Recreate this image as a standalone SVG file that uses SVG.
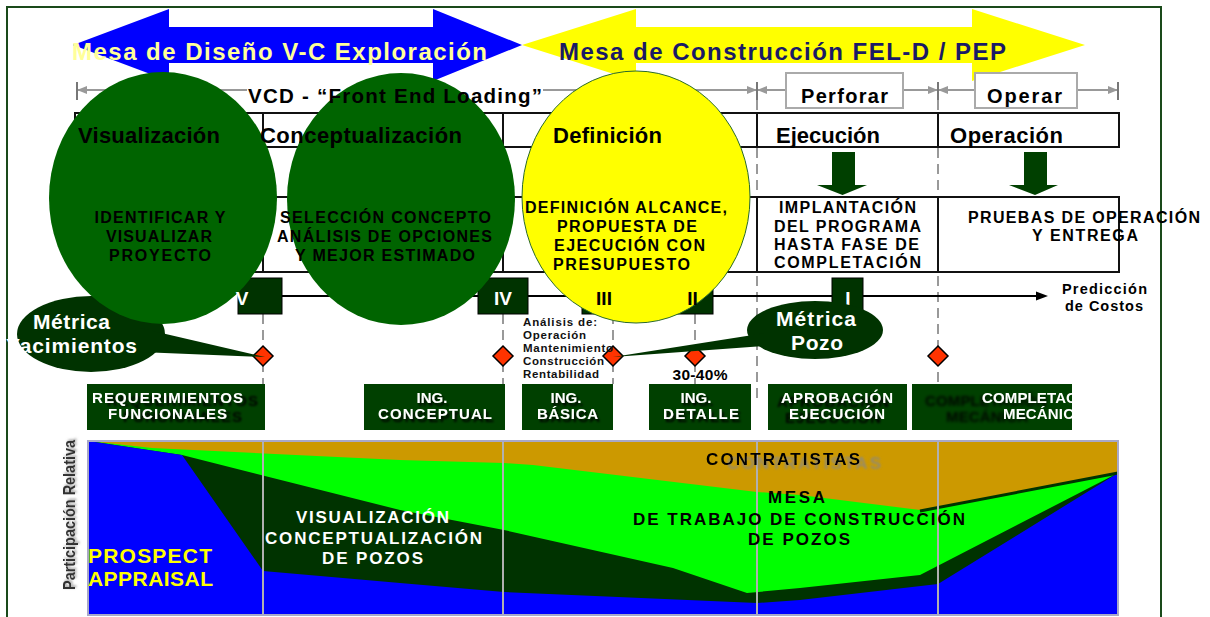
<svg xmlns="http://www.w3.org/2000/svg" width="1210" height="617" viewBox="0 0 1210 617">
<defs>
<style>
text{font-family:"Liberation Sans",Arial,Helvetica,sans-serif;font-weight:bold;}
.title{font-size:24px}
.phase{font-size:22px;fill:#000}
.desc{font-size:16px;fill:#000;text-anchor:middle}
.descl{font-size:16px;fill:#000}
.box{fill:#004000}
.boxt{font-size:15px;fill:#fff;text-anchor:middle}
.boxs{font-size:15px;fill:#fff}
.rom{fill:#003300;stroke:#000;stroke-width:1}
.romt{font-size:19px;text-anchor:middle}
.dim{stroke:#999;stroke-width:2;fill:none}
.tick{stroke:#777;stroke-width:2}
.dash{stroke:#999;stroke-width:2;stroke-dasharray:10 6;fill:none}
.tbl{stroke:#111;stroke-width:2;fill:none}
.dia{fill:#ff3300;stroke:#000;stroke-width:1.5}
.bub{fill:#003300}
.bubt{font-size:21px;fill:#fff;text-anchor:middle}
.small{font-size:11.5px;fill:#111}
.chart{font-size:17px;text-anchor:middle}
.grid{stroke:#b0b0b0;stroke-width:2}
</style>
<marker id="ga" viewBox="0 0 10 8" refX="10" refY="4" markerWidth="5" markerHeight="4" orient="auto-start-reverse" markerUnits="strokeWidth">
<path d="M0,0 L10,4 L0,8 z" fill="#999"/>
</marker>
<filter id="sh" x="-20%" y="-50%" width="140%" height="200%"><feDropShadow dx="2" dy="3" stdDeviation="1" flood-color="#000" flood-opacity="0.9"/></filter>
<filter id="sh15" x="-20%" y="-50%" width="150%" height="200%"><feDropShadow dx="15" dy="3" stdDeviation="1.2" flood-color="#000" flood-opacity="0.9"/></filter>
<filter id="shl" x="-30%" y="-50%" width="160%" height="200%"><feDropShadow dx="-4" dy="4" stdDeviation="1" flood-color="#000" flood-opacity="0.9"/></filter>
<filter id="shm" x="-100%" y="-50%" width="250%" height="200%"><feDropShadow dx="-57" dy="3" stdDeviation="1.5" flood-color="#000" flood-opacity="0.85"/></filter>
<filter id="shg" x="-20%" y="-50%" width="150%" height="200%"><feDropShadow dx="21" dy="4" stdDeviation="0.8" flood-color="#888" flood-opacity="0.8"/></filter>
<filter id="shp" x="-50%" y="-20%" width="200%" height="140%"><feDropShadow dx="1.5" dy="1.5" stdDeviation="1" flood-color="#888" flood-opacity="0.8"/></filter>
<clipPath id="clipComp"><rect x="912" y="384" width="160" height="46"/></clipPath>
</defs>

<rect x="0" y="0" width="1210" height="617" fill="#fff"/>
<rect x="7" y="7" width="1154" height="640" fill="none" stroke="#1a4a1a" stroke-width="2"/>

<g id="mesa-diseno">
<polygon points="73,45 169,9 169,27 433,27 433,9 522,45 433,81 433,63 169,63 169,81" fill="#0000ff"/>
<text class="title" x="72" y="60" fill="#ffff99" textLength="415">Mesa de Diseño V-C Exploración</text>
</g>
<g id="mesa-construccion">
<polygon points="522,45 636,9 636,27 972,27 972,9 1085,45 972,81 972,63 636,63 636,81" fill="#ffff00"/>
<text class="title" x="559" y="60" fill="#1a1a66" textLength="447">Mesa de Construcción FEL-D / PEP</text>
</g>

<g id="connectors">
<line class="dim" x1="77" y1="90" x2="247" y2="90" marker-start="url(#ga)"/>
<line class="dim" x1="543" y1="90" x2="757" y2="90" marker-end="url(#ga)"/>
<line class="dim" x1="757" y1="90" x2="786" y2="90" marker-start="url(#ga)"/>
<line class="dim" x1="903" y1="90" x2="938" y2="90" marker-end="url(#ga)"/>
<line class="dim" x1="938" y1="90" x2="975" y2="90" marker-start="url(#ga)"/>
<line class="dim" x1="1077" y1="90" x2="1118" y2="90" marker-end="url(#ga)"/>
<line class="tick" x1="77" y1="82" x2="77" y2="100" stroke="#555"/>
<line class="tick" x1="757" y1="82" x2="757" y2="100"/>
<line class="tick" x1="938" y1="82" x2="938" y2="100"/>
<line class="tick" x1="1118" y1="82" x2="1118" y2="100"/>
<line class="dash" x1="757" y1="100" x2="757" y2="402"/>
<line class="dash" x1="938" y1="100" x2="938" y2="384"/>
<line class="dash" x1="263" y1="314" x2="263" y2="384"/>
<line class="dash" x1="503" y1="314" x2="503" y2="395"/>
<line class="dash" x1="613" y1="314" x2="613" y2="384"/>
<line class="dash" x1="695" y1="314" x2="695" y2="384"/>
<line x1="263" y1="296" x2="1040" y2="296" stroke="#000" stroke-width="2"/>
<polygon points="1036,291.5 1048,296 1036,300.5" fill="#000"/>
</g>

<g id="perforar">
<rect x="786" y="73" width="117" height="35" fill="#fff" stroke="#aaa" stroke-width="2"/>
<text x="844.5" y="103" font-size="20" text-anchor="middle" textLength="87">Perforar</text>
</g>
<g id="operar">
<rect x="975" y="73" width="102" height="35" fill="#fff" stroke="#aaa" stroke-width="2"/>
<text x="1024.5" y="103" font-size="20" text-anchor="middle" textLength="75">Operar</text>
</g>

<g id="table">
<rect class="tbl" x="75" y="113" width="1044" height="34"/>
<rect class="tbl" x="75" y="197" width="1044" height="75"/>
<line class="tbl" x1="263" y1="113" x2="263" y2="272"/>
<line class="tbl" x1="503" y1="113" x2="503" y2="272"/>
<line class="tbl" x1="757" y1="113" x2="757" y2="147"/>
<line class="tbl" x1="757" y1="197" x2="757" y2="272"/>
<line class="tbl" x1="938" y1="113" x2="938" y2="147"/>
<line class="tbl" x1="938" y1="197" x2="938" y2="272"/>
</g>

<g id="mile-V"><rect class="rom" x="238" y="278" width="44" height="36"/></g>
<g id="mile-IV"><rect class="rom" x="478" y="278" width="50" height="36"/><text class="romt" x="503" y="305" fill="#fff">IV</text></g>
<g id="mile-III"><rect class="rom" x="582" y="278" width="46" height="36"/></g>
<g id="mile-II"><rect class="rom" x="672" y="278" width="41" height="36"/></g>
<g id="mile-I"><rect class="rom" x="832" y="278" width="31" height="36"/><text class="romt" x="848" y="305" fill="#fff">I</text></g>

<g id="diamonds">
<polygon class="dia" points="263,346 273,356 263,366 253,356"/>
<polygon class="dia" points="503,346 513,356 503,366 493,356"/>
<polygon class="dia" points="613,346 623,356 613,366 603,356"/>
<polygon class="dia" points="695,346 705,356 695,366 685,356"/>
<polygon class="dia" points="938,346 948,356 938,366 928,356"/>
</g>

<g id="metrica-yacimientos">
<ellipse class="bub" cx="91" cy="334" rx="74" ry="38"/>
<polygon class="bub" points="140,328 265,357 140,352"/>
</g>
<g id="metrica-pozo">
<ellipse class="bub" cx="815" cy="330" rx="68" ry="29"/>
<polygon class="bub" points="765,333 613,357 765,346"/>
<text class="bubt" x="816" y="326" textLength="80">Métrica</text>
<text class="bubt" x="817" y="350" textLength="52">Pozo</text>
</g>

<g id="visualizacion">
<ellipse cx="163" cy="198" rx="114" ry="126" fill="#006400"/>
</g>
<g id="conceptualizacion">
<ellipse cx="401" cy="199" rx="114" ry="126" fill="#006400"/>
</g>
<g id="definicion">
<ellipse cx="636" cy="197" rx="114" ry="126" fill="#ffff00" stroke="#2a6a2a" stroke-width="1"/>
</g>

<text x="395" y="103" font-size="20.5" text-anchor="middle" textLength="294">VCD - “Front End Loading”</text>

<text class="phase" x="78" y="143" textLength="142">Visualización</text>
<text class="phase" x="260" y="143" textLength="202">Conceptualización</text>
<text class="phase" x="553" y="143" textLength="109">Definición</text>
<text class="phase" x="776" y="143" textLength="104">Ejecución</text>
<text class="phase" x="950" y="143" textLength="113">Operación</text>

<g id="arrow-ejecucion"><polygon points="832,152 855,152 855,185 867,185 842.5,195 817,185 832,185" fill="#004000"/></g>
<g id="arrow-operacion"><polygon points="1024,152 1047,152 1047,185 1058,185 1035,195 1009,185 1024,185" fill="#004000"/></g>

<text class="desc" x="160" y="223" textLength="131">IDENTIFICAR Y</text>
<text class="desc" x="159" y="242" textLength="106">VISUALIZAR</text>
<text class="desc" x="160" y="261" textLength="102">PROYECTO</text>

<text class="desc" x="385.5" y="223" textLength="211">SELECCIÓN CONCEPTO</text>
<text class="desc" x="384.5" y="242" textLength="215">ANÁLISIS DE OPCIONES</text>
<text class="desc" x="385" y="261" textLength="180">Y MEJOR ESTIMADO</text>

<text class="descl" x="525" y="213" textLength="202">DEFINICIÓN ALCANCE,</text>
<text class="descl" x="557" y="232" textLength="140">PROPUESTA DE</text>
<text class="descl" x="554" y="251" textLength="151">EJECUCIÓN CON</text>
<text class="descl" x="553" y="270" textLength="137">PRESUPUESTO</text>

<text class="desc" x="847.5" y="213" textLength="137">IMPLANTACIÓN</text>
<text class="desc" x="847.5" y="232" textLength="147">DEL PROGRAMA</text>
<text class="desc" x="846.5" y="250" textLength="145">HASTA FASE DE</text>
<text class="desc" x="847.5" y="268" textLength="147">COMPLETACIÓN</text>

<text class="desc" x="1084" y="223" textLength="232">PRUEBAS DE OPERACIÓN</text>
<text class="desc" x="1085" y="241" textLength="106">Y ENTREGA</text>

<text class="romt" x="242" y="305" fill="#fff">V</text>
<text class="romt" x="604" y="305" fill="#000">III</text>
<text class="romt" x="692.5" y="305" fill="#000">II</text>

<text x="1104.5" y="294" font-size="14.5" text-anchor="middle" textLength="85">Predicción</text>
<text x="1104" y="311" font-size="14.5" text-anchor="middle" textLength="78">de Costos</text>

<text class="bubt" x="71.5" y="329" textLength="77">Métrica</text>
<text class="bubt" x="71.5" y="353" textLength="131">Yacimientos</text>

<g id="analisis">
<text class="small" x="523" y="326" textLength="74">Análisis de:</text>
<text class="small" x="523" y="339" textLength="63">Operación</text>
<text class="small" x="523" y="352" textLength="90">Mantenimiento</text>
<text class="small" x="523" y="365" textLength="81">Construcción</text>
<text class="small" x="523" y="378" textLength="76">Rentabilidad</text>
</g>
<text x="700" y="380" font-size="15.5" text-anchor="middle" textLength="55">30-40%</text>

<g id="req-funcionales">
<rect class="box" x="87" y="384" width="178" height="46"/>
<text class="boxt" x="167.5" y="403" textLength="151" filter="url(#sh15)">REQUERIMIENTOS</text>
<text class="boxt" x="167.5" y="419" textLength="119" filter="url(#sh15)">FUNCIONALES</text>
</g>
<g id="ing-conceptual">
<rect class="box" x="364" y="384" width="141" height="46"/>
<text class="boxt" x="432" y="403" filter="url(#sh)">ING.</text>
<text class="boxt" x="435" y="419" textLength="114" filter="url(#sh)">CONCEPTUAL</text>
</g>
<g id="ing-basica">
<rect class="box" x="522" y="384" width="91" height="46"/>
<text class="boxt" x="566" y="403" filter="url(#sh)">ING.</text>
<text class="boxt" x="567.5" y="419" textLength="61" filter="url(#sh)">BÁSICA</text>
</g>
<g id="ing-detalle">
<rect class="box" x="649" y="384" width="102" height="46"/>
<text class="boxt" x="696" y="403" filter="url(#sh)">ING.</text>
<text class="boxt" x="701" y="419" textLength="76" filter="url(#sh)">DETALLE</text>
</g>
<g id="aprobacion-ejecucion">
<rect class="box" x="768" y="384" width="139" height="46"/>
<text class="boxt" x="837" y="403" textLength="112" filter="url(#shl)">APROBACIÓN</text>
<text class="boxt" x="837" y="419" textLength="96" filter="url(#shl)">EJECUCIÓN</text>
</g>
<g id="completacion-mecanica">
<rect class="box" x="912" y="384" width="160" height="46"/>
<g clip-path="url(#clipComp)">
<text class="boxs" x="982" y="403" textLength="122" filter="url(#shm)">COMPLETACIÓN</text>
<text class="boxs" x="1003" y="419" textLength="82" filter="url(#shm)">MECÁNICA</text>
</g>
</g>

<g id="chart">
<rect x="88" y="441" width="1030" height="174" fill="#cc9900"/>
<polygon points="88,441 152,448 400,460 504,463 533,465 757,492 800,495 920,510 938,508 1118,473 1118,615 88,615" fill="#00ff00"/>
<polygon points="88,441 182,455 400,510 504,530 673,568 747,593 800,588 920,575 1118,473 1118,615 88,615" fill="#003300"/>
<polygon points="88,441 182,455 263,571 400,583 504,592 757,603 800,600 938,584 1118,473 1118,615 88,615" fill="#0000ff"/>
<line x1="920" y1="511" x2="1118" y2="473" stroke="#003300" stroke-width="3"/>
<line class="grid" x1="263" y1="441" x2="263" y2="615"/>
<line class="grid" x1="503" y1="441" x2="503" y2="615"/>
<line class="grid" x1="757" y1="441" x2="757" y2="615"/>
<line class="grid" x1="938" y1="441" x2="938" y2="615"/>
<rect x="88" y="441" width="1030" height="174" fill="none" stroke="#a8a8c8" stroke-width="2"/>
<text class="chart" x="783" y="465" fill="#000" textLength="154" filter="url(#shg)">CONTRATISTAS</text>
<text class="chart" x="796.5" y="503" fill="#000" textLength="57">MESA</text>
<text class="chart" x="799" y="525" fill="#000" textLength="332">DE TRABAJO DE CONSTRUCCIÓN</text>
<text class="chart" x="799" y="545" fill="#000" textLength="102">DE POZOS</text>
<text class="chart" x="372.5" y="523" fill="#fff" textLength="153">VISUALIZACIÓN</text>
<text class="chart" x="373.5" y="544" fill="#fff" textLength="217">CONCEPTUALIZACIÓN</text>
<text class="chart" x="372.5" y="564" fill="#fff" textLength="101">DE POZOS</text>
<text x="88" y="563" font-size="21" fill="#ffff00" textLength="124">PROSPECT</text>
<text x="88" y="586" font-size="21" fill="#ffff00" textLength="125">APPRAISAL</text>
<text transform="translate(75,515) rotate(-90)" x="0" y="0" font-size="17" fill="#333" text-anchor="middle" textLength="150" lengthAdjust="spacingAndGlyphs" filter="url(#shp)">Participación Relativa</text>
</g>
</svg>
